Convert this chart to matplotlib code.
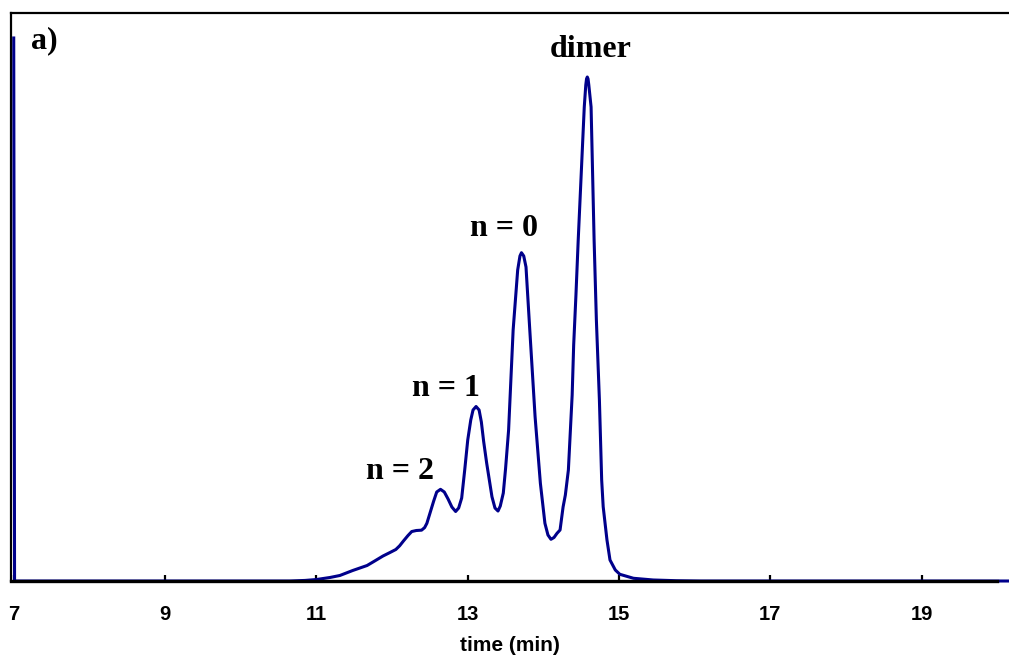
import matplotlib
matplotlib.use("Agg")
import matplotlib.pyplot as plt

# retention time (min) and detector signal (arb. units, 0-100 full scale)
time_min = [7.000, 7.011, 9.86, 10.65, 10.85, 11.00, 11.18, 11.31, 11.48, 11.67,
            11.77, 11.88, 11.97, 12.05, 12.10, 12.15, 12.21, 12.26, 12.32, 12.39,
            12.43, 12.46, 12.50, 12.55, 12.59, 12.64, 12.69, 12.74, 12.79, 12.84,
            12.88, 12.92, 12.96, 13.00, 13.04, 13.07, 13.11, 13.15, 13.18, 13.21,
            13.25, 13.32, 13.36, 13.40, 13.43, 13.47, 13.50, 13.54, 13.60, 13.66,
            13.69, 13.71, 13.74, 13.77, 13.82, 13.89, 13.96, 14.02, 14.06, 14.10,
            14.14, 14.18, 14.22, 14.26, 14.29, 14.33, 14.35, 14.38, 14.40, 14.43,
            14.46, 14.49, 14.52, 14.54, 14.56, 14.57, 14.58, 14.59, 14.60, 14.63,
            14.64, 14.67, 14.70, 14.74, 14.77, 14.79, 14.84, 14.88, 14.95, 15.01,
            15.19, 15.45, 15.76, 16.07, 20.15]
signal = [95.6, 0.0, 0.0, 0.0, 0.10, 0.26, 0.62, 0.97, 1.85, 2.73,
          3.52, 4.40, 5.00, 5.55, 6.20, 7.04, 8.00, 8.71, 8.89, 8.95,
          9.40, 10.16, 11.90, 14.08, 15.67, 16.14, 15.67, 14.44, 13.03, 12.24,
          12.85, 14.61, 19.54, 24.82, 28.35, 30.11, 30.72, 30.11, 27.99, 24.60,
          20.77, 14.84, 12.85, 12.32, 13.20, 15.49, 19.80, 26.58, 44.19, 54.75,
          57.22, 57.80, 57.22, 55.28, 44.19, 28.93, 17.20, 10.16, 8.10, 7.34,
          7.66, 8.40, 8.98, 13.03, 15.14, 19.54, 24.82, 32.75, 41.55, 50.35,
          60.04, 68.84, 77.64, 83.45, 87.32, 88.40, 88.73, 88.40, 87.32, 83.45,
          77.64, 60.04, 45.95, 31.87, 17.78, 13.08, 7.22, 3.70, 1.94, 1.18,
          0.48, 0.18, 0.05, 0.0, 0.0]

peak_labels = ["n = 2", "n = 1", "n = 0", "dimer"]
label_t = [12.11, 12.71, 13.48, 14.63]
label_s = [17.96, 32.6, 60.7, 92.25]
tick_vals = [7, 9, 11, 13, 15, 17, 19]

fig = plt.figure(figsize=(10.09, 6.59), dpi=100)
ax = fig.add_axes([11 / 1009, 1 - 581 / 659, 998 / 1009, 568 / 659])

ax.plot(time_min, signal, color="#00008B", lw=2.2, clip_on=False, zorder=2,
        solid_joinstyle="round")

ax.set_xlim(6.964, 20.153)
ax.set_ylim(0, 100)

ax.spines["right"].set_visible(False)
ax.spines["top"].set_linewidth(1.6)
ax.spines["left"].set_linewidth(1.6)
ax.spines["bottom"].set_linewidth(2.4)
ax.spines["bottom"].set_bounds(6.964, 20)
ax.spines["bottom"].set_zorder(3)

ax.set_yticks([])
ax.set_xticks(tick_vals)
ax.set_xticklabels([str(v) for v in tick_vals], fontfamily="Liberation Sans",
                   fontweight="bold", fontsize=14.5)
ax.tick_params(axis="x", direction="in", length=4, width=1.6, pad=17)
ax.set_xlabel("time (min)", fontfamily="Liberation Sans", fontweight="bold",
              fontsize=15, labelpad=9)

serif = dict(fontfamily="Liberation Serif", fontweight="bold", fontsize=23)
for lab, t, s in zip(peak_labels, label_t, label_s):
    ax.text(t, s, lab, ha="center", va="baseline", **serif)
ax.text(0.020, 0.938, "a)", transform=ax.transAxes, ha="left", va="baseline", **serif)

fig.savefig("out.png", dpi=100)
